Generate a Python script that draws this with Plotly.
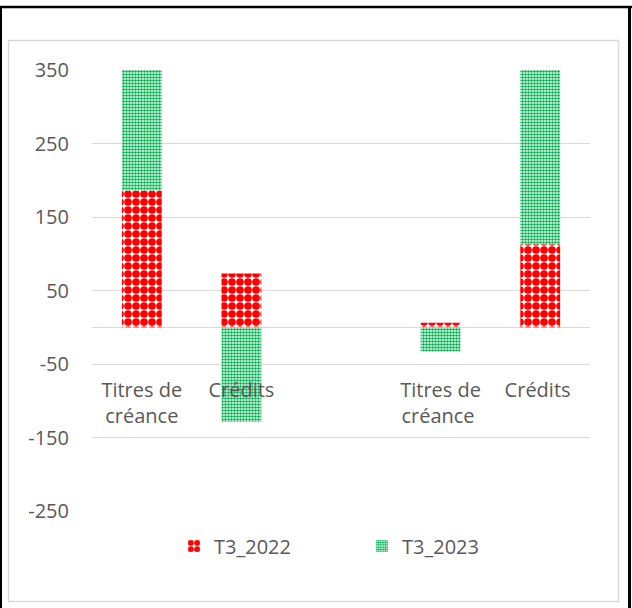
import plotly.graph_objects as go

categories = ["Titres de<br>créance", "Crédits", " ", "Titres de<br>créance ", "Crédits "]
t3_2022 = [186, 73, None, 6, 113]
t3_2023 = [164, -129, None, -33, 237]
series_names = ["T3_2022", "T3_2023"]
y_ticks = [-250, -150, -50, 50, 150, 250, 350]
y_tick_labels = ["-250", "-150", "-50", "50", "150", "250", "350"]

W, H = 632, 608
L, R, T, B = 92, 590, 70, 511  # plot area in pixels


def px(x):
    return (x - L) / (R - L)


def py(y):
    return (B - y) / (B - T)


FONT = "Open Sans"
GREY_TXT = "#595959"

fig = go.Figure()
fig.add_trace(go.Bar(
    x=categories, y=t3_2022, name=series_names[0],
    marker=dict(color="white", line=dict(width=0),
                pattern=dict(shape=".", fgcolor="#ff0000", bgcolor="white",
                             size=8, solidity=0.72, fillmode="replace")),
    width=0.4,
))
fig.add_trace(go.Bar(
    x=categories, y=t3_2023, name=series_names[1],
    marker=dict(color="white", line=dict(width=0),
                pattern=dict(shape=".", fgcolor="#00b050", bgcolor="white",
                             size=3, solidity=0.6, fillmode="replace")),
    width=0.4,
))

fig.update_layout(
    width=W, height=H, autosize=False,
    margin=dict(l=L, r=W - R, t=T, b=H - B, pad=0),
    paper_bgcolor="white", plot_bgcolor="white",
    barmode="relative",
    font=dict(family=FONT, size=20, color=GREY_TXT),
    showlegend=True,
    legend=dict(orientation="h", x=px(174), xanchor="left", y=py(546), yanchor="middle",
                font=dict(family=FONT, size=20, color=GREY_TXT),
                entrywidth=143, entrywidthmode="pixels",
                bgcolor="rgba(0,0,0,0)"),
    xaxis=dict(type="category", categoryorder="array", categoryarray=categories,
               showgrid=False, showline=False, ticks="", zeroline=False,
               anchor="free", position=py(376), tickfont=dict(size=20, color=GREY_TXT)),
    yaxis=dict(range=[-250, 350], tickvals=y_ticks, ticktext=y_tick_labels,
               showgrid=True, gridcolor="#d9d9d9",
               gridwidth=1, zeroline=True, zerolinecolor="#d9d9d9", zerolinewidth=1,
               showline=False, ticks="", ticklabelstandoff=22,
               tickfont=dict(size=20, color=GREY_TXT)),
    shapes=[
        dict(type="rect", xref="paper", yref="paper",
             x0=px(8.5), x1=px(618.5), y0=py(601.5), y1=py(40.5),
             line=dict(color="#d9d9d9", width=1.5), fillcolor="rgba(0,0,0,0)", layer="below"),
        dict(type="line", xref="paper", yref="paper",
             x0=px(0), x1=px(632), y0=py(7), y1=py(7), line=dict(color="black", width=2.5)),
        dict(type="line", xref="paper", yref="paper",
             x0=px(1), x1=px(1), y0=py(6), y1=py(608), line=dict(color="black", width=2)),
        dict(type="line", xref="paper", yref="paper",
             x0=px(629.5), x1=px(629.5), y0=py(6), y1=py(608), line=dict(color="black", width=3)),
    ],
)

fig.write_html("out.html", config={"displayModeBar": False},
               post_script="document.body.style.margin='0px';document.body.style.overflow='hidden';")
